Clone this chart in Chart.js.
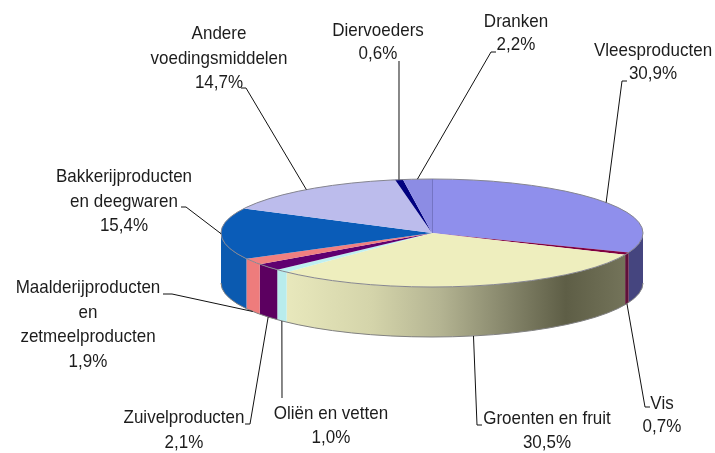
<!DOCTYPE html>
<html>
<head>
<meta charset="utf-8">
<style>
  html, body { margin: 0; padding: 0; background: #fff; }
  canvas { display: block; }
</style>
<script src="https://cdn.jsdelivr.net/npm/chart.js@4"></script>
</head>
<body>
<canvas id="mycanvas" width="715" height="453"></canvas>
<script>
// data, clockwise from 12 o'clock
var labelLines = [
  ["Vleesproducten"],
  ["Vis"],
  ["Groenten en fruit"],
  ["Oliën en vetten"],
  ["Zuivelproducten"],
  ["Maalderijproducten", "en", "zetmeelproducten"],
  ["Bakkerijproducten", "en deegwaren"],
  ["Andere", "voedingsmiddelen"],
  ["Diervoeders"],
  ["Dranken"]
];
var values = [30.9, 0.7, 30.5, 1.0, 2.1, 1.9, 15.4, 14.7, 0.6, 2.2];
var valueLabels = ["30,9%", "0,7%", "30,5%", "1,0%", "2,1%", "1,9%", "15,4%", "14,7%", "0,6%", "2,2%"];

var topColors = ["#8f8fec", "#800040", "#eeeebe", "#c0f0f0", "#600070", "#f08080", "#0a5cb8", "#bcbcec", "#000080", "#8c8ce4"];
var wallColors = ["#45457f", "#60103a", null, "#b8ecec", "#5c0060", "#ee7c7c", "#0b5ab0", "#bcbcec", "#000080", "#8c8ce4"];

// where the labels sit: centre x, first baseline, line step
var labelX = [653, 662, 547, 331, 184, 88, 124, 219, 378, 516];
var labelY = [56, 409, 424, 419, 423, 293, 182, 39, 36, 27];
var labelStep = [23, 23, 24, 24, 25, 24.7, 24.5, 24.5, 23, 23];

// leader lines: elbow point then end next to the text
var leaderElbow = [[622, 81], [645, 407], [477, 425], null, [250, 424], [172, 294], [186, 207], [246, 88], null, [491, 52]];
var leaderEnd = [[627, 81], [650, 407], [482, 425], [282, 398], [245, 424], [163, 294], [181, 207], [241, 88], [399, 61], [496, 52]];

// the squashed pie
var pieX = 432, pieY = 233, pieRx = 211, pieRy = 54, pieDepth = 50;

function groentenGradient(ctx) {
  var g = ctx.createLinearGradient(287, 0, 627, 0);
  g.addColorStop(0, "#e8e8bc");
  g.addColorStop(0.25, "#d4d4aa");
  g.addColorStop(0.45, "#b4b492");
  g.addColorStop(0.65, "#85856a");
  g.addColorStop(0.82, "#5e5e46");
  g.addColorStop(1, "#74745a");
  return g;
}

var pie3d = {
  id: "pie3d",
  beforeDatasetsDraw: function(chart) {
    var ctx = chart.ctx;
    var arcs = chart.getDatasetMeta(0).data;

    // side wall, only the front half of the ellipse shows
    for (var i = 0; i < arcs.length; i++) {
      var a0 = Math.max(arcs[i].startAngle, 0);
      var a1 = Math.min(arcs[i].endAngle, Math.PI);
      if (a0 >= a1) continue;
      ctx.beginPath();
      ctx.ellipse(pieX, pieY, pieRx, pieRy, 0, a0, a1);
      ctx.ellipse(pieX, pieY + pieDepth, pieRx, pieRy, 0, a1, a0, true);
      ctx.closePath();
      ctx.fillStyle = wallColors[i] || groentenGradient(ctx);
      ctx.fill();
    }

    // bottom edge
    ctx.beginPath();
    ctx.ellipse(pieX, pieY + pieDepth, pieRx, pieRy, 0, 0, Math.PI);
    ctx.strokeStyle = "#808080";
    ctx.lineWidth = 1;
    ctx.stroke();

    // squash the circle Chart.js draws onto the top ellipse
    var R = arcs[0].outerRadius;
    ctx.save();
    ctx.translate(pieX, pieY);
    ctx.scale(pieRx / R, pieRy / R);
    ctx.translate(-arcs[0].x, -arcs[0].y);
  },
  afterDatasetsDraw: function(chart) {
    var ctx = chart.ctx;
    var arcs = chart.getDatasetMeta(0).data;
    ctx.restore();

    // rim of the top
    ctx.beginPath();
    ctx.ellipse(pieX, pieY, pieRx, pieRy, 0, 0, Math.PI * 2);
    ctx.strokeStyle = "#85858f";
    ctx.lineWidth = 1;
    ctx.stroke();

    // seam between Dranken and Vleesproducten
    ctx.beginPath();
    ctx.moveTo(pieX + 0.5, pieY - pieRy);
    ctx.lineTo(pieX + 0.5, pieY);
    ctx.strokeStyle = "#7474c4";
    ctx.stroke();

    // leaders start at the middle of each slice, on the outer edge
    ctx.strokeStyle = "#111";
    ctx.lineWidth = 1;
    for (var i = 0; i < arcs.length; i++) {
      var mid = (arcs[i].startAngle + arcs[i].endAngle) / 2;
      var px = pieX + pieRx * Math.cos(mid);
      var py = pieY + pieRy * Math.sin(mid);
      // Bakkerij sits right on the left tip, keep that one on the top rim
      if (Math.sin(mid) > 0.1) py += pieDepth;
      ctx.beginPath();
      ctx.moveTo(px, py);
      if (leaderElbow[i]) ctx.lineTo(leaderElbow[i][0], leaderElbow[i][1]);
      ctx.lineTo(leaderEnd[i][0], leaderEnd[i][1]);
      ctx.stroke();
    }

    // labels, Arial squeezed a little like the original
    ctx.fillStyle = "#1c1c1c";
    ctx.textAlign = "center";
    ctx.textBaseline = "alphabetic";
    ctx.font = "19px 'Liberation Sans'";
    for (var j = 0; j < labelLines.length; j++) {
      var lines = labelLines[j].concat([valueLabels[j]]);
      for (var k = 0; k < lines.length; k++) {
        ctx.save();
        ctx.translate(labelX[j], labelY[j] + k * labelStep[j]);
        ctx.scale(0.895, 1);
        ctx.fillText(lines[k], 0, 0);
        ctx.restore();
      }
    }
  }
};

var chart = new Chart(document.getElementById("mycanvas"), {
  type: "pie",
  data: {
    labels: labelLines.map(function(l) { return l.join(" "); }),
    datasets: [{
      data: values,
      backgroundColor: topColors,
      borderWidth: 0,
      clip: false
    }]
  },
  options: {
    responsive: false,
    animation: false,
    plugins: {
      legend: { display: false },
      tooltip: { enabled: false }
    }
  },
  plugins: [pie3d]
});
</script>
</body>
</html>
